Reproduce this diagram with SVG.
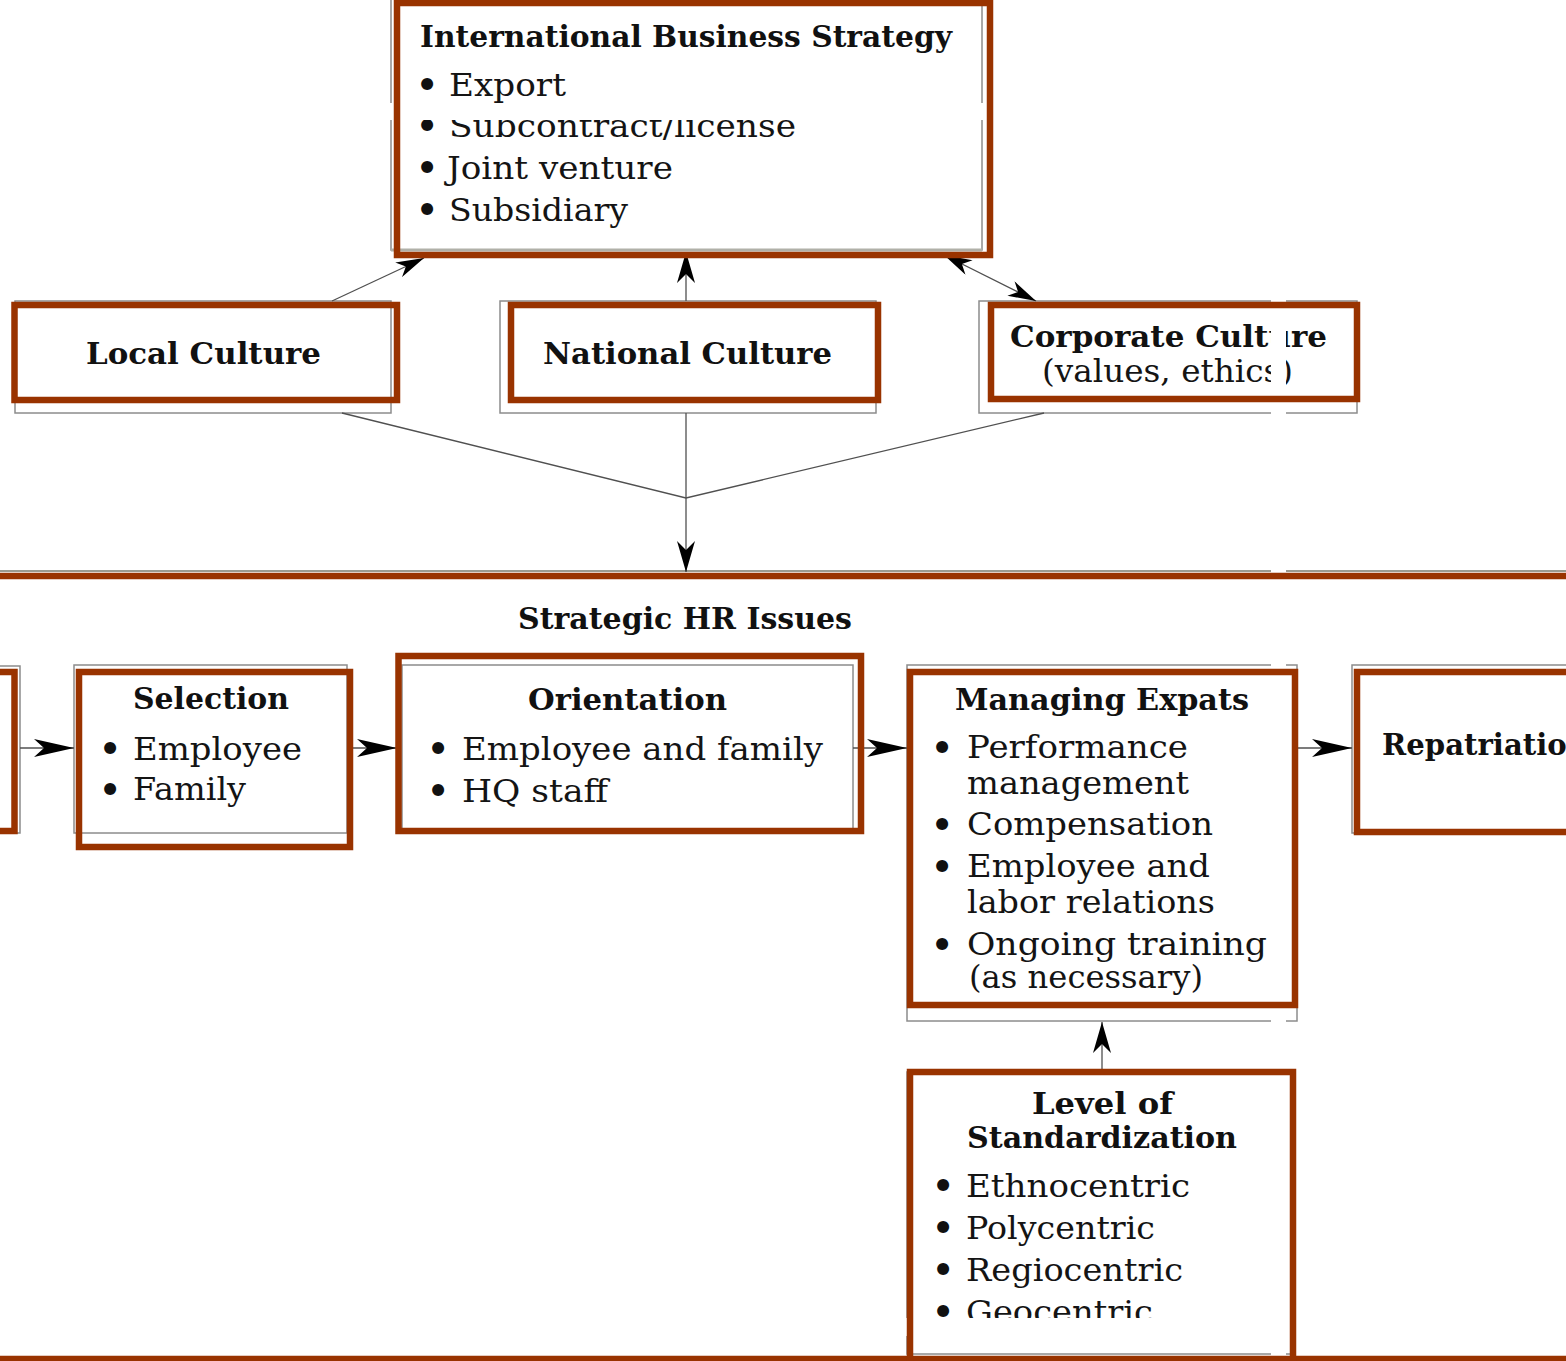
<svg xmlns="http://www.w3.org/2000/svg" width="1566" height="1361" viewBox="0 0 1566 1361">
<style>
.g{fill:none;stroke:#8c8c8c;stroke-width:1.5}
.r{fill:none;stroke:#993300;stroke-width:6.5}
.t{font-family:"DejaVu Serif","Liberation Serif",serif;font-size:31px;fill:#141414}
.b{font-family:"DejaVu Serif","Liberation Serif",serif;font-size:29px;font-weight:bold;fill:#111}
.bu{font-family:"DejaVu Sans",sans-serif;font-size:34px;font-weight:bold;fill:#111;text-anchor:middle}
.c{fill:none;stroke:#505050;stroke-width:1.3}
.w{fill:#fff}
</style>
<defs>
<marker id="ah" viewBox="0 0 40 18" refX="40" refY="9" markerWidth="40" markerHeight="18" markerUnits="userSpaceOnUse" orient="auto"><path d="M0,0 L40,9 L0,18 L10,9 Z" fill="#000"/></marker>
<marker id="av" viewBox="0 0 31 18" refX="31" refY="9" markerWidth="31" markerHeight="18" markerUnits="userSpaceOnUse" orient="auto"><path d="M0,0 L31,9 L0,18 L9,9 Z" fill="#000"/></marker>
<marker id="ad" viewBox="0 0 28 16" refX="28" refY="8" markerWidth="28" markerHeight="16" markerUnits="userSpaceOnUse" orient="auto-start-reverse"><path d="M0,0 L28,8 L0,16 L8,8 Z" fill="#000"/></marker>
</defs>
<rect width="1566" height="1361" fill="#fff"/>

<g id="ibs">
<rect class="g" x="391" y="-2" width="591" height="252"/>
<line x1="391" y1="250" x2="982" y2="250" stroke="#b0b0a8" stroke-width="3"/>
<text class="b" x="420" y="47" textLength="532" lengthAdjust="spacingAndGlyphs">International Business Strategy</text>
<text class="bu" x="427" y="97">•</text><text class="t" x="449" y="96" textLength="117" lengthAdjust="spacingAndGlyphs">Export</text>
<text class="bu" x="427" y="138">•</text><text class="t" x="449" y="137" textLength="347" lengthAdjust="spacingAndGlyphs">Subcontract/license</text>
<text class="bu" x="427" y="180">•</text><text class="t" x="447" y="179" textLength="226" lengthAdjust="spacingAndGlyphs">Joint venture</text>
<text class="bu" x="427" y="222">•</text><text class="t" x="449" y="221" textLength="179" lengthAdjust="spacingAndGlyphs">Subsidiary</text>
</g>

<g id="local">
<rect class="g" x="15" y="301" width="376" height="112"/>
<text class="b" x="86" y="364" textLength="235" lengthAdjust="spacingAndGlyphs">Local Culture</text>
</g>
<g id="national">
<rect class="g" x="500" y="301" width="376" height="112"/>
<text class="b" x="543" y="364" textLength="289" lengthAdjust="spacingAndGlyphs">National Culture</text>
</g>
<g id="corporate">
<rect class="g" x="979" y="301" width="378" height="112"/>
<text class="b" x="1010" y="347" textLength="317" lengthAdjust="spacingAndGlyphs">Corporate Culture</text>
<text class="t" x="1042" y="382" textLength="251" lengthAdjust="spacingAndGlyphs">(values, ethics)</text>
</g>

<g id="hr-section">
<line x1="0" y1="571" x2="1566" y2="571" stroke="#9a9a90" stroke-width="2"/>
<text class="b" x="518" y="629" textLength="334" lengthAdjust="spacingAndGlyphs">Strategic HR Issues</text>
</g>

<g id="prev">
<path class="g" d="M-5,666 H20 V833 H-5"/>
</g>
<g id="selection">
<rect class="g" x="74" y="665" width="273" height="168"/>
<text class="b" x="133" y="709" textLength="156" lengthAdjust="spacingAndGlyphs">Selection</text>
<text class="bu" x="110" y="761">•</text><text class="t" x="133" y="760" textLength="169" lengthAdjust="spacingAndGlyphs">Employee</text>
<text class="bu" x="110" y="802">•</text><text class="t" x="133" y="800" textLength="113" lengthAdjust="spacingAndGlyphs">Family</text>
</g>
<g id="orientation">
<rect class="g" x="402" y="665" width="451" height="168"/>
<text class="b" x="528" y="710" textLength="199" lengthAdjust="spacingAndGlyphs">Orientation</text>
<text class="bu" x="438" y="761">•</text><text class="t" x="462" y="760" textLength="361" lengthAdjust="spacingAndGlyphs">Employee and family</text>
<text class="bu" x="438" y="803">•</text><text class="t" x="462" y="802" textLength="146" lengthAdjust="spacingAndGlyphs">HQ staff</text>
</g>
<g id="expats">
<rect class="g" x="907" y="665" width="390" height="356"/>
<text class="b" x="955" y="710" textLength="294" lengthAdjust="spacingAndGlyphs">Managing Expats</text>
<text class="bu" x="942" y="760">•</text><text class="t" x="967" y="758" textLength="221" lengthAdjust="spacingAndGlyphs">Performance</text>
<text class="t" x="967" y="794" textLength="222" lengthAdjust="spacingAndGlyphs">management</text>
<text class="bu" x="942" y="837">•</text><text class="t" x="967" y="835" textLength="246" lengthAdjust="spacingAndGlyphs">Compensation</text>
<text class="bu" x="942" y="879">•</text><text class="t" x="967" y="877" textLength="243" lengthAdjust="spacingAndGlyphs">Employee and</text>
<text class="t" x="967" y="913" textLength="248" lengthAdjust="spacingAndGlyphs">labor relations</text>
<text class="bu" x="942" y="957">•</text><text class="t" x="967" y="955" textLength="300" lengthAdjust="spacingAndGlyphs">Ongoing training</text>
<text class="t" x="969" y="988" textLength="234" lengthAdjust="spacingAndGlyphs">(as necessary)</text>
</g>
<g id="repatriation">
<path class="g" d="M1580,665 H1352 V833 H1580"/>
<text class="b" x="1382" y="755" textLength="206" lengthAdjust="spacingAndGlyphs">Repatriation</text>
</g>
<g id="standardization">
<rect class="g" x="907" y="1072" width="384" height="282"/>
<text class="b" x="1032" y="1114" textLength="141" lengthAdjust="spacingAndGlyphs">Level of</text>
<text class="b" x="967" y="1148" textLength="270" lengthAdjust="spacingAndGlyphs">Standardization</text>
<text class="bu" x="943" y="1198">•</text><text class="t" x="966" y="1197" textLength="224" lengthAdjust="spacingAndGlyphs">Ethnocentric</text>
<text class="bu" x="943" y="1240">•</text><text class="t" x="966" y="1239" textLength="189" lengthAdjust="spacingAndGlyphs">Polycentric</text>
<text class="bu" x="943" y="1282">•</text><text class="t" x="966" y="1281" textLength="217" lengthAdjust="spacingAndGlyphs">Regiocentric</text>
<text class="bu" x="943" y="1324">•</text><text class="t" x="966" y="1323" textLength="187" lengthAdjust="spacingAndGlyphs">Geocentric</text>
</g>

<g id="connectors">
<line class="c" x1="332" y1="301" x2="424" y2="258" marker-end="url(#ad)"/>
<line class="c" x1="686" y1="301" x2="686" y2="252" marker-end="url(#av)"/>
<line class="c" x1="944" y1="255" x2="1036" y2="301" marker-start="url(#ad)" marker-end="url(#ad)"/>
<polyline class="c" points="342,413 686,498 1044,413"/>
<line class="c" x1="686" y1="413" x2="686" y2="572" marker-end="url(#av)"/>
<line class="c" x1="20" y1="748" x2="74" y2="748" marker-end="url(#ah)"/>
<line class="c" x1="347" y1="748" x2="397" y2="748" marker-end="url(#ah)"/>
<line class="c" x1="853" y1="748" x2="907" y2="748" marker-end="url(#ah)"/>
<line class="c" x1="1297" y1="748" x2="1352" y2="748" marker-end="url(#ah)"/>
<line class="c" x1="1102" y1="1069" x2="1102" y2="1022" marker-end="url(#av)"/>
</g>

<g id="scan-gaps">
<rect class="w" x="0" y="103" width="1566" height="17"/>
<rect class="w" x="0" y="1318" width="1566" height="18"/>
<rect class="w" x="1271" y="0" width="15" height="1361"/>
</g>

<g id="highlights">
<rect class="r" x="397" y="3" width="593" height="252"/>
<rect class="r" x="14.5" y="305" width="382.5" height="95"/>
<rect class="r" x="511" y="305" width="367" height="95"/>
<rect class="r" x="991" y="305" width="366" height="94"/>
<line class="r" x1="-5" y1="576" x2="1571" y2="576"/>
<line class="r" x1="-5" y1="1359" x2="1571" y2="1359"/>
<rect class="r" x="-20" y="672" width="34.5" height="159"/>
<rect class="r" x="79" y="672" width="271" height="175"/>
<rect class="r" x="398.5" y="656" width="462.5" height="175"/>
<rect class="r" x="910" y="672" width="385" height="333"/>
<rect class="r" x="1357" y="672" width="230" height="160"/>
<rect class="r" x="910" y="1072" width="383" height="310"/>
</g>
</svg>
